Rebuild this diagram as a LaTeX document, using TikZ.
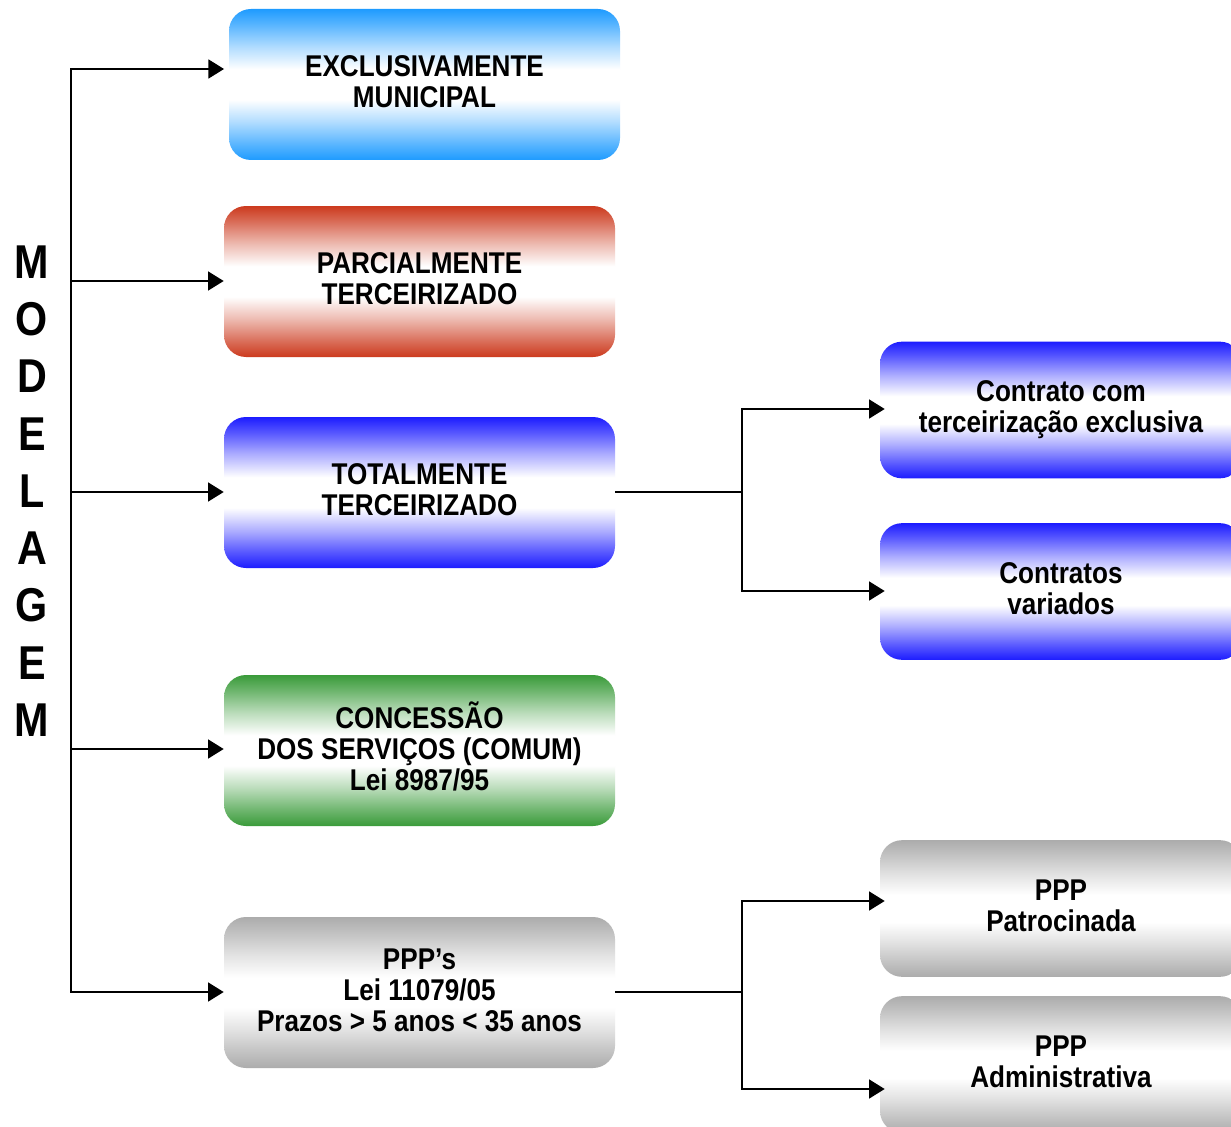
\documentclass[tikz,border=0pt]{standalone}
\usepackage{fontspec}
\setmainfont{Liberation Sans}[FakeStretch=0.87]
\usetikzlibrary{arrows.meta}
\newcommand\mkshade[2]{%
  \pgfdeclareverticalshading{#1}{100bp}{color(0bp)=(#2); color(25bp)=(#2);
    color(30bp)=(#2!75!white); color(37.5bp)=(#2!35!white); color(45bp)=(white);
    color(55bp)=(white); color(62.5bp)=(#2!35!white); color(70bp)=(#2!75!white);
    color(75bp)=(#2); color(100bp)=(#2)}}
\definecolor{cLightBlue}{RGB}{30,155,255}
\definecolor{cRed}{RGB}{204,58,30}
\definecolor{cBlue}{RGB}{28,28,255}
\definecolor{cGreen}{RGB}{58,155,58}
\definecolor{cGray}{RGB}{172,172,172}
\mkshade{shLightBlue}{cLightBlue}
\mkshade{shRed}{cRed}
\mkshade{shBlue}{cBlue}
\mkshade{shGreen}{cGreen}
\mkshade{shGray}{cGray}
\tikzset{
  boxbase/.style={rectangle, rounded corners=16.5pt, inner sep=0pt},
  leftbox/.style={boxbase, minimum width=293.25pt, minimum height=113.25pt},
  rightbox/.style={boxbase, minimum width=271.5pt, minimum height=102.5pt},
  boxtext/.style={inner sep=0pt, align=center, yshift=2.3pt,
    font=\bfseries\fontsize{22.5}{23.2}\selectfont},
  conn/.style={line width=1.8pt, line join=miter},
  arr/.style={conn, -{Triangle[length=11.7pt,width=14pt]}},
}
\begin{document}
\begin{tikzpicture}[x=0.75pt,y=-0.75pt]
\useasboundingbox (0,0) rectangle (1231,1127);
\clip (0,0) rectangle (1231,1127);
\fill[white] (0,0) rectangle (1231,1127);
% left column boxes
\node[leftbox, shading=shLightBlue,
  label={[boxtext]center:EXCLUSIVAMENTE\\MUNICIPAL}] (b1) at (424.5,84.5) {};
\node[leftbox, shading=shRed,
  label={[boxtext]center:PARCIALMENTE\\TERCEIRIZADO}] (b2) at (419.5,281.5) {};
\node[leftbox, shading=shBlue,
  label={[boxtext]center:TOTALMENTE\\TERCEIRIZADO}] (b3) at (419.5,492.5) {};
\node[leftbox, shading=shGreen,
  label={[boxtext, yshift=1pt]center:CONCESSÃO\\DOS SERVIÇOS (COMUM)\\Lei 8987/95}] (b4) at (419.5,750.5) {};
\node[leftbox, shading=shGray,
  label={[boxtext, yshift=-0.8pt]center:PPP’s\\Lei 11079/05\\Prazos > 5 anos < 35 anos}] (b5) at (419.5,992.5) {};
% right column boxes
\node[rightbox, shading=shBlue,
  label={[boxtext, yshift=-2.3pt]center:Contrato com\\terceirização exclusiva}] (r1) at (1061,410) {};
\node[rightbox, shading=shBlue,
  label={[boxtext]center:Contratos\\variados}] (r2) at (1061,591.5) {};
\node[rightbox, shading=shGray,
  label={[boxtext]center:PPP\\Patrocinada}] (r3) at (1061,908.5) {};
\node[rightbox, shading=shGray,
  label={[boxtext]center:PPP\\Administrativa}] (r4) at (1061,1064.5) {};
% vertical title
\node[align=center, inner sep=0pt, font=\bfseries\fontsize{35.6}{42.94}\selectfont] (title) at (32,491)
  {M\\O\\D\\E\\L\\A\\G\\E\\M};
% trunk coordinates
\coordinate (t1) at (71,69);
\coordinate (t2) at (71,281);
\coordinate (t3) at (71,492);
\coordinate (t4) at (71,749);
\coordinate (t5) at (71,992);
\draw[arr, shorten >=3.5pt] (t3) -- (t1) -- (t1 -| b1.west);
\draw[arr] (t2) -- (t2 -| b2.west);
\draw[arr] (t3) -- (t3 -| b3.west);
\draw[arr] (t4) -- (t4 -| b4.west);
\draw[arr] (t3) -- (t5) -- (t5 -| b5.west);
% right junctions
\coordinate (j1) at (742,492);
\coordinate (j1a) at (742,409);
\coordinate (j1b) at (742,591);
\coordinate (j2) at (742,992);
\coordinate (j2a) at (742,901);
\coordinate (j2b) at (742,1089);
\draw[conn] (b3.east |- j1) -- (j1);
\draw[arr, shorten >=-3.75pt] (j1) -- (j1a) -- (j1a -| r1.west);
\draw[arr, shorten >=-3.75pt] (j1) -- (j1b) -- (j1b -| r2.west);
\draw[conn] (b5.east |- j2) -- (j2);
\draw[arr, shorten >=-3.75pt] (j2) -- (j2a) -- (j2a -| r3.west);
\draw[arr, shorten >=-3.75pt] (j2) -- (j2b) -- (j2b -| r4.west);
\end{tikzpicture}
\end{document}
